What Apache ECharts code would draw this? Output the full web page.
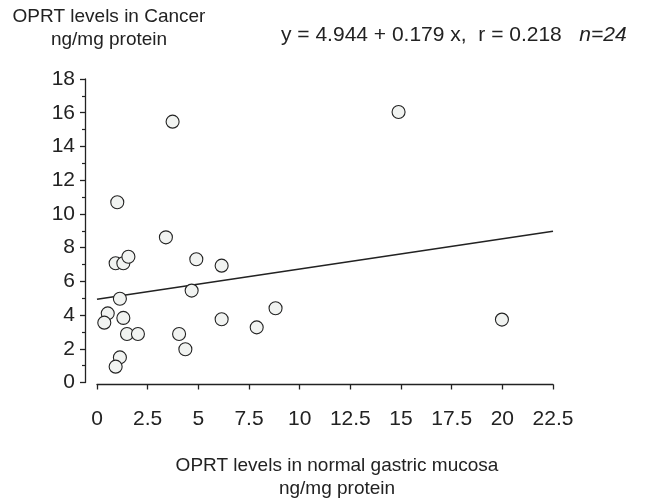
<!DOCTYPE html>
<html>
<head>
<meta charset="utf-8">
<script src="https://cdn.jsdelivr.net/npm/echarts@6/dist/echarts.min.js"></script>
<style>
  html, body { margin: 0; padding: 0; background: #fff; }
  #chart { width: 653px; height: 499px; }
</style>
</head>
<body>
<div id="chart"></div>
<script>
// normal mucosa (x) vs cancer (y), ng/mg protein
const normalLevels = [3.73, 1.0, 3.40, 0.92, 1.30, 1.55, 4.90, 6.15, 1.13, 4.67, 0.53, 0.36,
  1.30, 6.15, 7.88, 8.81, 1.48, 2.02, 4.05, 4.36, 1.13, 0.92, 14.88, 19.98];
const cancerLevels = [15.47, 10.69, 8.61, 7.07, 7.07, 7.46, 7.31, 6.93, 4.97, 5.45, 4.10, 3.55,
  3.83, 3.75, 3.27, 4.40, 2.88, 2.88, 2.88, 1.97, 1.49, 0.94, 16.04, 3.73];

// regression as printed on the figure
const intercept = 4.944;
const slope = 0.179;
const fitRange = [0, 22.5];

const xTicks = [0, 2.5, 5, 7.5, 10, 12.5, 15, 17.5, 20, 22.5];
const yTicks = [0, 2, 4, 6, 8, 10, 12, 14, 16, 18];

const FONT = '"Liberation Sans", Arial, sans-serif';
const INK = '#222';

const points = normalLevels.map((x, i) => [x, cancerLevels[i]]);
const fitLine = fitRange.map(x => [x, intercept + slope * x]);

const chart = echarts.init(document.getElementById('chart'), null, { renderer: 'canvas' });

chart.setOption({
  animation: false,
  backgroundColor: '#fff',
  textStyle: { fontFamily: FONT, color: INK },
  grid: { left: 97, right: 100, top: 79, bottom: 116.5 },
  xAxis: {
    type: 'value',
    min: xTicks[0],
    max: xTicks[xTicks.length - 1],
    interval: 2.5,
    offset: 2,
    splitLine: { show: false },
    axisLine: { onZero: false, lineStyle: { color: INK, width: 1.3 } },
    axisTick: { length: 5, lineStyle: { color: INK, width: 1.3 } },
    axisLabel: { fontSize: 21, color: INK, margin: 24, fontFamily: FONT }
  },
  yAxis: {
    type: 'value',
    min: yTicks[0],
    max: yTicks[yTicks.length - 1],
    interval: 2,
    offset: 12,
    splitLine: { show: false },
    axisLine: { onZero: false, lineStyle: { color: INK, width: 1.3 } },
    axisTick: { length: 5, lineStyle: { color: INK, width: 1.3 } },
    minorTick: { show: true, splitNumber: 2, length: 3, lineStyle: { color: INK, width: 1.2 } },
    axisLabel: { fontSize: 21, color: INK, margin: 10, fontFamily: FONT }
  },
  graphic: [
    {
      type: 'text', x: 109, y: 5,
      style: {
        text: 'OPRT levels in Cancer\nng/mg protein',
        align: 'center', fontSize: 19, lineHeight: 23, fill: INK, fontFamily: FONT
      }
    },
    {
      type: 'text', x: 281, y: 25,
      style: {
        text: '{n|y = 4.944 + 0.179 x,  r = 0.218   }{i|n=24}',
        rich: {
          n: { fontSize: 21, fill: INK, fontFamily: FONT },
          i: { fontSize: 21, fill: INK, fontFamily: FONT, fontStyle: 'italic' }
        }
      }
    },
    {
      type: 'text', x: 337, y: 454,
      style: {
        text: 'OPRT levels in normal gastric mucosa\nng/mg protein',
        align: 'center', fontSize: 19, lineHeight: 23.5, fill: INK, fontFamily: FONT
      }
    }
  ],
  series: [
    {
      type: 'line',
      data: fitLine,
      symbol: 'none',
      lineStyle: { color: INK, width: 1.5 },
      z: 1
    },
    {
      type: 'scatter',
      data: points,
      symbol: 'circle',
      symbolSize: 13,
      itemStyle: { color: '#f1f3f1', borderColor: INK, borderWidth: 1.1, opacity: 1 },
      z: 2
    }
  ]
});
</script>
</body>
</html>
